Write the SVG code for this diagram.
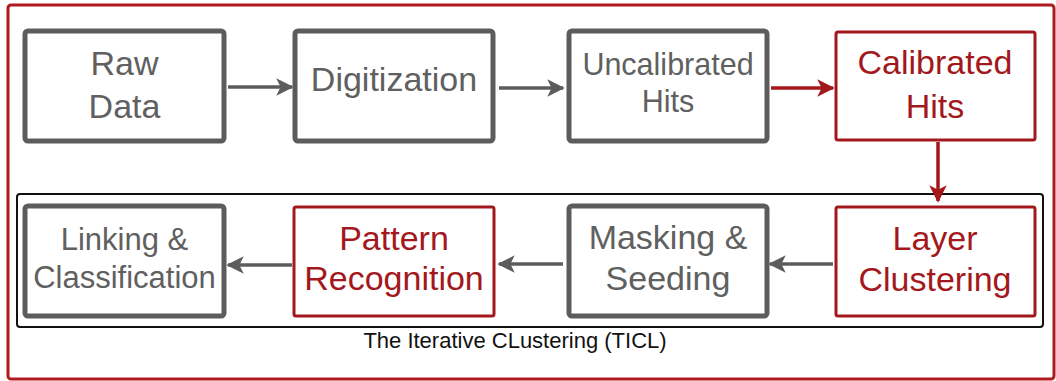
<svg xmlns="http://www.w3.org/2000/svg" width="1056" height="381" viewBox="0 0 1056 381">
  <style>
    .gbox { fill: #ffffff; stroke: #5c5c5c; stroke-width: 5; }
    .rbox { fill: #ffffff; stroke: #a3181c; stroke-width: 3; }
    .gtxt { fill: #606060; font-family: "Liberation Sans", Arial, sans-serif; text-anchor: middle; }
    .rtxt { fill: #a3181c; font-family: "Liberation Sans", Arial, sans-serif; text-anchor: middle; }
    .glink { stroke: #5c5c5c; stroke-width: 3.5; fill: none; marker-end: url(#ag); }
    .rlink { stroke: #a3181c; stroke-width: 3.5; fill: none; marker-end: url(#ar); }
  </style>
  <defs>
    <marker id="ag" viewBox="0 0 10 10" refX="9" refY="5" markerWidth="5" markerHeight="6.5" orient="auto" markerUnits="strokeWidth">
      <path d="M0,0 L10,5 L0,10 L2.5,5 z" fill="#5c5c5c"/>
    </marker>
    <marker id="ar" viewBox="0 0 10 10" refX="9" refY="5" markerWidth="5" markerHeight="6.5" orient="auto" markerUnits="strokeWidth">
      <path d="M0,0 L10,5 L0,10 L2.5,5 z" fill="#a3181c"/>
    </marker>
  </defs>
  <rect x="0" y="0" width="1056" height="381" fill="#ffffff"/>
  <g id="frame">
    <rect x="8" y="5" width="1046" height="374" rx="3" fill="none" stroke="#b0191e" stroke-width="3"/>
  </g>
  <g id="ticl">
    <rect x="17" y="194" width="1026" height="133" rx="3" fill="none" stroke="#111111" stroke-width="2"/>
    <text x="515" y="348" font-family="'Liberation Sans', Arial, sans-serif" font-size="22" fill="#111111" text-anchor="middle">The Iterative CLustering (TICL)</text>
  </g>
  <g id="connectors">
    <line class="glink" x1="228" y1="87" x2="292" y2="87"/>
    <line class="glink" x1="499" y1="88" x2="563" y2="88"/>
    <line class="rlink" x1="771" y1="88" x2="833" y2="88"/>
    <line class="rlink" x1="938" y1="142" x2="938" y2="201"/>
    <line class="glink" x1="833" y1="264" x2="770" y2="264"/>
    <line class="glink" x1="563" y1="264" x2="499" y2="264"/>
    <line class="glink" x1="292" y1="265" x2="228" y2="265"/>
  </g>
  <g id="raw-data">
    <rect class="gbox" x="25" y="31" width="199" height="110" rx="3"/>
    <text class="gtxt" x="124.5" y="75" font-size="34">Raw</text>
    <text class="gtxt" x="124.5" y="118" font-size="34">Data</text>
  </g>
  <g id="digitization">
    <rect class="gbox" x="295" y="31" width="198" height="110" rx="3"/>
    <text class="gtxt" x="394" y="91" font-size="34">Digitization</text>
  </g>
  <g id="uncalibrated-hits">
    <rect class="gbox" x="569" y="31" width="198" height="110" rx="3"/>
    <text class="gtxt" x="668" y="75" font-size="30.5">Uncalibrated</text>
    <text class="gtxt" x="668" y="112" font-size="30.5">Hits</text>
  </g>
  <g id="calibrated-hits">
    <rect class="rbox" x="836" y="32" width="199" height="108" rx="2"/>
    <text class="rtxt" x="935" y="74" font-size="34">Calibrated</text>
    <text class="rtxt" x="935" y="118" font-size="34">Hits</text>
  </g>
  <g id="linking-classification">
    <rect class="gbox" x="25" y="206" width="199" height="110" rx="3"/>
    <text class="gtxt" x="124.5" y="250" font-size="31">Linking &amp;</text>
    <text class="gtxt" x="124.5" y="288" font-size="31">Classification</text>
  </g>
  <g id="pattern-recognition">
    <rect class="rbox" x="294" y="207" width="200" height="109" rx="2"/>
    <text class="rtxt" x="394" y="250" font-size="34">Pattern</text>
    <text class="rtxt" x="394" y="290" font-size="34">Recognition</text>
  </g>
  <g id="masking-seeding">
    <rect class="gbox" x="569" y="206" width="198" height="110" rx="3"/>
    <text class="gtxt" x="668" y="249" font-size="34">Masking &amp;</text>
    <text class="gtxt" x="668" y="290" font-size="34">Seeding</text>
  </g>
  <g id="layer-clustering">
    <rect class="rbox" x="836" y="207" width="199" height="109" rx="2"/>
    <text class="rtxt" x="935" y="250" font-size="34">Layer</text>
    <text class="rtxt" x="935" y="291" font-size="34">Clustering</text>
  </g>
</svg>
